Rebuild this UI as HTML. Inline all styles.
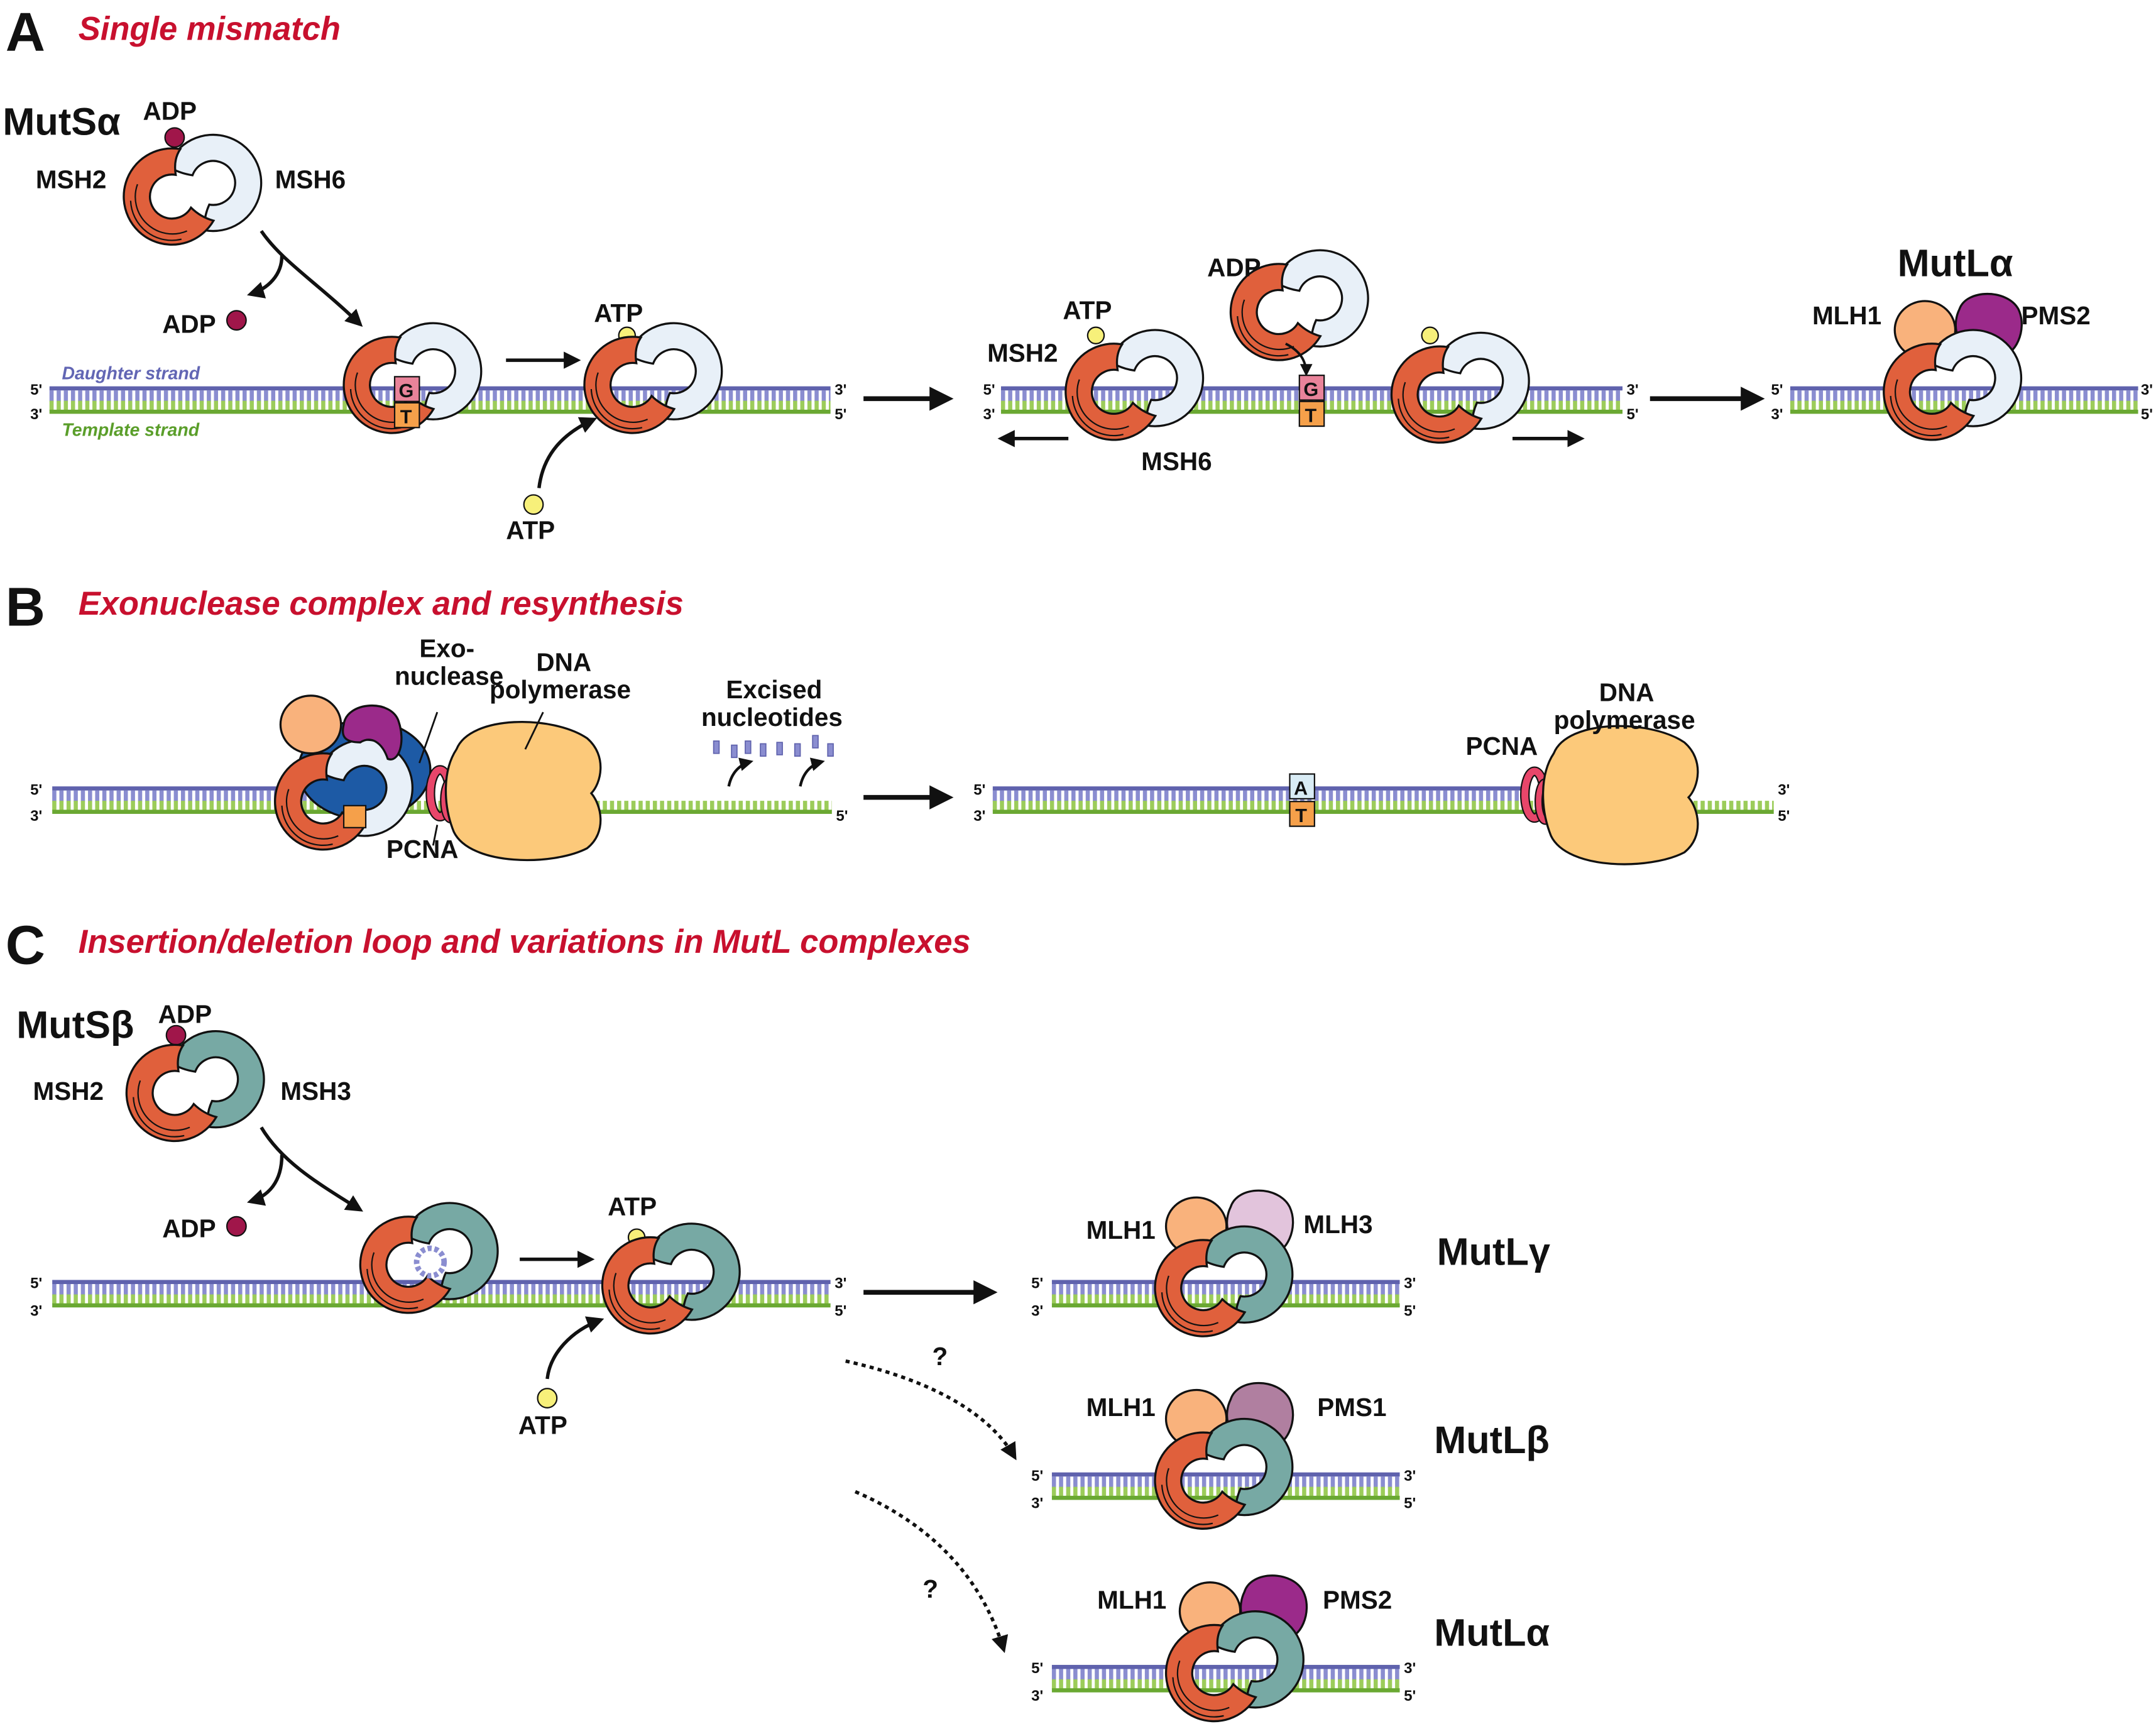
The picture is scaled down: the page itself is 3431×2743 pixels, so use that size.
<!DOCTYPE html>
<html><head><meta charset="utf-8"><style>
html,body{margin:0;padding:0;background:#fff}
svg{display:block}
text{font-family:"Liberation Sans",Arial,sans-serif;font-weight:bold;fill:#111}
.lb{font-size:18.5px}
.sm{font-size:11px}
.hd{font-size:40px}
.ti{font-size:24px;font-style:italic;fill:#c8102e}
.big{font-size:28px;font-weight:bold}
</style></head><body>
<svg width="3431" height="2743" viewBox="0 0 1568 1254" preserveAspectRatio="none" xmlns="http://www.w3.org/2000/svg">
<defs>
<marker id="ah" viewBox="0 0 10 10" refX="8" refY="5" markerWidth="5" markerHeight="5" orient="auto"><path d="M0,0 L10,5 L0,10 Z" fill="#111"/></marker>
<path id="m2" d="M-8.9,-29.5 A35,35 0 1,0 15.3,22.5 Q6,20 -1.1,13 A16,16 0 1,1 -12.2,-10.8 Q-14,-22 -8.9,-29.5 Z" fill="#e0603c" stroke="#111" stroke-width="1.5"/>
<path id="pc" d="M-17.9,-17 A35,35 0 1,1 8.9,29.5 Q8,20 12.2,10.8 A16,16 0 1,0 0,-10.5 Q-10,-12 -17.9,-17 Z" stroke="#111" stroke-width="1.5"/>
<g id="lines2"><path d="M-45,8 A30,30 0 0,0 -8,36" fill="none" stroke="#111" stroke-width="1"/><path d="M-40,-4 A27,27 0 0,0 -4,30" fill="none" stroke="#111" stroke-width="1"/></g>
<g id="msA"><use href="#pc" fill="#e8f0f8"/><use href="#m2"/><use href="#lines2"/></g>
<g id="msB"><use href="#pc" fill="#77a9a4"/><use href="#m2"/><use href="#lines2"/></g>
<path id="pol" d="M-50,-30 C-40,-55 20,-55 45,-38 C60,-25 55,-5 48,2 C55,10 60,30 45,42 C20,55 -40,55 -52,30 C-60,10 -60,-15 -50,-30 Z" fill="#fcc97a" stroke="#111" stroke-width="1.5"/>
<g id="pcna"><ellipse cx="0" cy="0" rx="7" ry="17" fill="none" stroke="#111" stroke-width="7"/><ellipse cx="0" cy="0" rx="7" ry="17" fill="none" stroke="#e8466a" stroke-width="5"/><ellipse cx="8" cy="5" rx="5" ry="14" fill="none" stroke="#111" stroke-width="6"/><ellipse cx="8" cy="5" rx="5" ry="14" fill="none" stroke="#e8466a" stroke-width="4"/></g>
</defs>

<g id="strands">
<g>
<line x1="36" y1="288" x2="604" y2="288" stroke="#8a8dd0" stroke-width="8" stroke-dasharray="3 2.2"/>
<line x1="36" y1="295" x2="604" y2="295" stroke="#9ccc5a" stroke-width="7" stroke-dasharray="3 2.2"/>
<rect x="36" y="281" width="568" height="3" fill="#5f62ad"/>
<rect x="36" y="298" width="568" height="3" fill="#6aa832"/>
</g>
<g>
<line x1="728" y1="288" x2="1180" y2="288" stroke="#8a8dd0" stroke-width="8" stroke-dasharray="3 2.2"/>
<line x1="728" y1="295" x2="1180" y2="295" stroke="#9ccc5a" stroke-width="7" stroke-dasharray="3 2.2"/>
<rect x="728" y="281" width="452" height="3" fill="#5f62ad"/>
<rect x="728" y="298" width="452" height="3" fill="#6aa832"/>
</g>
<g>
<line x1="1302" y1="288" x2="1555" y2="288" stroke="#8a8dd0" stroke-width="8" stroke-dasharray="3 2.2"/>
<line x1="1302" y1="295" x2="1555" y2="295" stroke="#9ccc5a" stroke-width="7" stroke-dasharray="3 2.2"/>
<rect x="1302" y="281" width="253" height="3" fill="#5f62ad"/>
<rect x="1302" y="298" width="253" height="3" fill="#6aa832"/>
</g>
<g>
<line x1="38" y1="579" x2="300" y2="579" stroke="#8a8dd0" stroke-width="8" stroke-dasharray="3 2.2"/>
<line x1="38" y1="586" x2="605" y2="586" stroke="#9ccc5a" stroke-width="7" stroke-dasharray="3 2.2"/>
<rect x="38" y="572" width="262" height="3" fill="#5f62ad"/>
<rect x="38" y="589" width="567" height="3" fill="#6aa832"/>
</g>
<g>
<line x1="722" y1="579" x2="1110" y2="579" stroke="#8a8dd0" stroke-width="8" stroke-dasharray="3 2.2"/>
<line x1="722" y1="586" x2="1290" y2="586" stroke="#9ccc5a" stroke-width="7" stroke-dasharray="3 2.2"/>
<rect x="722" y="572" width="388" height="3" fill="#5f62ad"/>
<rect x="722" y="589" width="568" height="3" fill="#6aa832"/>
</g>
<g>
<line x1="38" y1="938" x2="604" y2="938" stroke="#8a8dd0" stroke-width="8" stroke-dasharray="3 2.2"/>
<line x1="38" y1="945" x2="604" y2="945" stroke="#9ccc5a" stroke-width="7" stroke-dasharray="3 2.2"/>
<rect x="38" y="931" width="566" height="3" fill="#5f62ad"/>
<rect x="38" y="948" width="566" height="3" fill="#6aa832"/>
</g>
<g>
<line x1="765" y1="938" x2="1018" y2="938" stroke="#8a8dd0" stroke-width="8" stroke-dasharray="3 2.2"/>
<line x1="765" y1="945" x2="1018" y2="945" stroke="#9ccc5a" stroke-width="7" stroke-dasharray="3 2.2"/>
<rect x="765" y="931" width="253" height="3" fill="#5f62ad"/>
<rect x="765" y="948" width="253" height="3" fill="#6aa832"/>
</g>
<g>
<line x1="765" y1="1078" x2="1018" y2="1078" stroke="#8a8dd0" stroke-width="8" stroke-dasharray="3 2.2"/>
<line x1="765" y1="1085" x2="1018" y2="1085" stroke="#9ccc5a" stroke-width="7" stroke-dasharray="3 2.2"/>
<rect x="765" y="1071" width="253" height="3" fill="#5f62ad"/>
<rect x="765" y="1088" width="253" height="3" fill="#6aa832"/>
</g>
<g>
<line x1="765" y1="1218" x2="1018" y2="1218" stroke="#8a8dd0" stroke-width="8" stroke-dasharray="3 2.2"/>
<line x1="765" y1="1225" x2="1018" y2="1225" stroke="#9ccc5a" stroke-width="7" stroke-dasharray="3 2.2"/>
<rect x="765" y="1211" width="253" height="3" fill="#5f62ad"/>
<rect x="765" y="1228" width="253" height="3" fill="#6aa832"/>
</g>
</g>

<!-- ===== A ===== -->
<text x="4" y="37" class="hd">A</text>
<text x="57" y="29" class="ti">Single mismatch</text>
<text x="2" y="98" style="font-size:28px">MutSα</text>
<text x="104" y="87" class="lb">ADP</text>
<text x="26" y="137" class="lb">MSH2</text>
<text x="200" y="137" class="lb">MSH6</text>
<circle cx="127" cy="100" r="7" fill="#a0164a" stroke="#111"/>
<use href="#msA" x="140" y="138"/>
<path d="M190,168 C205,190 230,205 262,236" fill="none" stroke="#111" stroke-width="2.5" marker-end="url(#ah)"/>
<path d="M205,186 C205,200 195,210 182,214" fill="none" stroke="#111" stroke-width="2.5" marker-end="url(#ah)"/>
<circle cx="172" cy="233" r="7" fill="#a0164a" stroke="#111"/>
<text x="118" y="242" class="lb">ADP</text>
<text x="22" y="287" class="sm">5'</text><text x="22" y="305" class="sm">3'</text>
<text x="45" y="276" style="font-size:13px;font-style:italic;fill:#6266b4">Daughter strand</text>
<text x="45" y="317" style="font-size:13px;font-style:italic;fill:#5a9e2a">Template strand</text>
<text x="607" y="287" class="sm">3'</text><text x="607" y="305" class="sm">5'</text>
<use href="#msA" x="300" y="275"/>
<rect x="287" y="274" width="18" height="18" fill="#e9839a" stroke="#111"/><text x="290" y="289" style="font-size:14px">G</text>
<rect x="287" y="293" width="18" height="18" fill="#f5a04a" stroke="#111"/><text x="291" y="308" style="font-size:14px">T</text>
<line x1="368" y1="262" x2="420" y2="262" stroke="#111" stroke-width="2.5" marker-end="url(#ah)"/>
<circle cx="456" cy="244" r="6" fill="#f7f07a" stroke="#111"/>
<use href="#msA" x="475" y="275"/>
<text x="432" y="234" class="lb">ATP</text>
<path d="M392,355 C395,330 410,315 432,305" fill="none" stroke="#111" stroke-width="2.5" marker-end="url(#ah)"/>
<circle cx="388" cy="367" r="7" fill="#f7f07a" stroke="#111"/>
<text x="368" y="392" class="lb">ATP</text>
<line x1="628" y1="290" x2="690" y2="290" stroke="#111" stroke-width="3.5" marker-end="url(#ah)"/>
<text x="715" y="287" class="sm">5'</text><text x="715" y="305" class="sm">3'</text>
<text x="1183" y="287" class="sm">3'</text><text x="1183" y="305" class="sm">5'</text>
<circle cx="797" cy="244" r="6" fill="#f7f07a" stroke="#111"/>
<use href="#msA" x="825" y="280"/>
<circle cx="1040" cy="244" r="6" fill="#f7f07a" stroke="#111"/>
<use href="#msA" x="1062" y="282"/>
<circle cx="914" cy="210" r="7" fill="#a0164a" stroke="#111"/>
<use href="#msA" x="945" y="222"/>
<path d="M935,250 C945,255 950,262 950,272" fill="none" stroke="#111" stroke-width="1.8" marker-end="url(#ah)"/>
<rect x="945" y="273" width="18" height="18" fill="#e9839a" stroke="#111"/><text x="948" y="288" style="font-size:14px">G</text>
<rect x="945" y="292" width="18" height="18" fill="#f5a04a" stroke="#111"/><text x="949" y="307" style="font-size:14px">T</text>
<text x="878" y="201" class="lb">ADP</text>
<text x="773" y="232" class="lb">ATP</text>
<text x="718" y="263" class="lb">MSH2</text>
<text x="830" y="342" class="lb">MSH6</text>
<line x1="777" y1="319" x2="728" y2="319" stroke="#111" stroke-width="2.5" marker-end="url(#ah)"/>
<line x1="1100" y1="319" x2="1150" y2="319" stroke="#111" stroke-width="2.5" marker-end="url(#ah)"/>
<line x1="1200" y1="290" x2="1280" y2="290" stroke="#111" stroke-width="3.5" marker-end="url(#ah)"/>
<text x="1288" y="287" class="sm">5'</text><text x="1288" y="305" class="sm">3'</text>
<text x="1557" y="287" class="sm">3'</text><text x="1557" y="305" class="sm">5'</text>
<ellipse cx="1400" cy="240" rx="22" ry="21" fill="#f9b27c" stroke="#111" stroke-width="1.5"/>
<path d="M1425,225 C1430,210 1460,210 1468,225 C1475,240 1465,260 1455,258 C1450,250 1440,245 1432,250 C1422,250 1420,235 1425,225 Z" fill="#9b2a8a" stroke="#111" stroke-width="1.5"/>
<use href="#msA" x="1420" y="280"/>
<text x="1380" y="201" class="big">MutLα</text>
<text x="1318" y="236" class="lb">MLH1</text>
<text x="1470" y="236" class="lb">PMS2</text>

<!-- ===== B ===== -->
<text x="4" y="455" class="hd">B</text>
<text x="57" y="447" class="ti">Exonuclease complex and resynthesis</text>
<ellipse cx="265" cy="560" rx="48" ry="36" fill="#1d5aa5" stroke="#111" stroke-width="1.5"/>
<ellipse cx="226" cy="527" rx="22" ry="21" fill="#f9b27c" stroke="#111" stroke-width="1.5"/>
<use href="#msA" x="250" y="578"/>
<path d="M250,527 C252,510 285,508 290,525 C295,540 290,555 282,552 C278,540 270,535 262,540 C250,540 248,535 250,527 Z" fill="#9b2a8a" stroke="#111" stroke-width="1.5"/>
<rect x="250" y="586" width="16" height="16" fill="#f5a04a" stroke="#111"/>
<use href="#pcna" x="320" y="577"/>
<use href="#pol" x="382" y="575"/>
<line x1="318" y1="518" x2="305" y2="555" stroke="#111" stroke-width="1.3"/>
<line x1="395" y1="518" x2="382" y2="545" stroke="#111" stroke-width="1.3"/>
<line x1="318" y1="600" x2="315" y2="615" stroke="#111" stroke-width="1.3"/>
<text x="305" y="478" class="lb">Exo-</text>
<text x="287" y="498" class="lb">nuclease</text>
<text x="390" y="488" class="lb">DNA</text>
<text x="356" y="508" class="lb">polymerase</text>
<text x="281" y="624" class="lb">PCNA</text>
<text x="22" y="578" class="sm">5'</text><text x="22" y="597" class="sm">3'</text>
<text x="608" y="597" class="sm">5'</text>
<text x="528" y="508" class="lb">Excised</text>
<text x="510" y="528" class="lb">nucleotides</text>
<g fill="#8a8dd0" stroke="#5f62ad" stroke-width="0.8">
<rect x="519" y="539" width="4" height="9"/><rect x="532" y="542" width="4" height="9"/><rect x="542" y="539" width="4" height="9"/><rect x="553" y="541" width="4" height="9"/><rect x="565" y="540" width="4" height="9"/><rect x="578" y="541" width="4" height="9"/><rect x="591" y="535" width="4" height="9"/><rect x="602" y="541" width="4" height="9"/>
</g>
<path d="M530,572 C532,562 538,556 546,554" fill="none" stroke="#111" stroke-width="2" marker-end="url(#ah)"/>
<path d="M582,572 C584,562 590,556 598,554" fill="none" stroke="#111" stroke-width="2" marker-end="url(#ah)"/>
<line x1="628" y1="580" x2="690" y2="580" stroke="#111" stroke-width="3.5" marker-end="url(#ah)"/>
<text x="708" y="578" class="sm">5'</text><text x="708" y="597" class="sm">3'</text>
<text x="1293" y="578" class="sm">3'</text><text x="1293" y="597" class="sm">5'</text>
<rect x="938" y="563" width="18" height="18" fill="#d9ecf5" stroke="#111"/><text x="941" y="578" style="font-size:14px">A</text>
<rect x="938" y="583" width="18" height="18" fill="#f5a04a" stroke="#111"/><text x="942" y="598" style="font-size:14px">T</text>
<use href="#pcna" x="1116" y="578"/>
<use href="#pol" x="1180" y="578"/>
<text x="1163" y="510" class="lb">DNA</text>
<text x="1130" y="530" class="lb">polymerase</text>
<text x="1066" y="549" class="lb">PCNA</text>

<!-- ===== C ===== -->
<text x="4" y="701" class="hd">C</text>
<text x="57" y="693" class="ti">Insertion/deletion loop and variations in MutL complexes</text>
<text x="12" y="755" style="font-size:28px">MutSβ</text>
<text x="115" y="744" class="lb">ADP</text>
<text x="24" y="800" class="lb">MSH2</text>
<text x="204" y="800" class="lb">MSH3</text>
<circle cx="128" cy="753" r="7" fill="#a0164a" stroke="#111"/>
<use href="#msB" x="142" y="790"/>
<path d="M190,820 C205,845 230,860 262,880" fill="none" stroke="#111" stroke-width="2.5" marker-end="url(#ah)"/>
<path d="M205,840 C205,860 195,870 182,874" fill="none" stroke="#111" stroke-width="2.5" marker-end="url(#ah)"/>
<circle cx="172" cy="892" r="7" fill="#a0164a" stroke="#111"/>
<text x="118" y="900" class="lb">ADP</text>
<text x="22" y="937" class="sm">5'</text><text x="22" y="957" class="sm">3'</text>
<text x="607" y="937" class="sm">3'</text><text x="607" y="957" class="sm">5'</text>
<use href="#msB" x="312" y="915"/>
<circle cx="313" cy="918" r="10" fill="none" stroke="#8a8dd0" stroke-width="4" stroke-dasharray="3 2"/>
<line x1="378" y1="916" x2="430" y2="916" stroke="#111" stroke-width="2.5" marker-end="url(#ah)"/>
<circle cx="463" cy="900" r="6" fill="#f7f07a" stroke="#111"/>
<use href="#msB" x="488" y="930"/>
<text x="442" y="884" class="lb">ATP</text>
<path d="M398,1003 C400,985 415,968 437,960" fill="none" stroke="#111" stroke-width="2.5" marker-end="url(#ah)"/>
<circle cx="398" cy="1017" r="7" fill="#f7f07a" stroke="#111"/>
<text x="377" y="1043" class="lb">ATP</text>
<line x1="628" y1="940" x2="722" y2="940" stroke="#111" stroke-width="3.5" marker-end="url(#ah)"/>
<path d="M615,990 C660,1000 715,1020 738,1060" fill="none" stroke="#111" stroke-width="2.5" stroke-dasharray="3 3" marker-end="url(#ah)"/>
<path d="M622,1085 C680,1110 715,1150 730,1200" fill="none" stroke="#111" stroke-width="2.5" stroke-dasharray="3 3" marker-end="url(#ah)"/>
<text x="678" y="993" class="lb">?</text>
<text x="671" y="1162" class="lb">?</text>
<text x="750" y="937" class="sm">5'</text><text x="750" y="957" class="sm">3'</text>
<text x="1021" y="937" class="sm">3'</text><text x="1021" y="957" class="sm">5'</text>
<ellipse cx="870" cy="892" rx="22" ry="21" fill="#f9b27c" stroke="#111" stroke-width="1.5"/>
<path d="M895,878 C900,862 930,862 938,878 C945,893 935,913 925,911 C920,903 910,898 902,903 C892,903 890,888 895,878 Z" fill="#e2c4dc" stroke="#111" stroke-width="1.5"/>
<use href="#msB" x="890" y="932"/>
<text x="790" y="901" class="lb">MLH1</text>
<text x="948" y="897" class="lb">MLH3</text>
<text x="1045" y="920" class="big">MutLγ</text>
<text x="750" y="1077" class="sm">5'</text><text x="750" y="1097" class="sm">3'</text>
<text x="1021" y="1077" class="sm">3'</text><text x="1021" y="1097" class="sm">5'</text>
<ellipse cx="870" cy="1032" rx="22" ry="21" fill="#f9b27c" stroke="#111" stroke-width="1.5"/>
<path d="M895,1018 C900,1002 930,1002 938,1018 C945,1033 935,1053 925,1051 C920,1043 910,1038 902,1043 C892,1043 890,1028 895,1018 Z" fill="#b07fa0" stroke="#111" stroke-width="1.5"/>
<use href="#msB" x="890" y="1072"/>
<text x="790" y="1030" class="lb">MLH1</text>
<text x="958" y="1030" class="lb">PMS1</text>
<text x="1043" y="1057" class="big">MutLβ</text>
<text x="750" y="1217" class="sm">5'</text><text x="750" y="1237" class="sm">3'</text>
<text x="1021" y="1217" class="sm">3'</text><text x="1021" y="1237" class="sm">5'</text>
<ellipse cx="880" cy="1172" rx="22" ry="21" fill="#f9b27c" stroke="#111" stroke-width="1.5"/>
<path d="M905,1158 C910,1142 940,1142 948,1158 C955,1173 945,1193 935,1191 C930,1183 920,1178 912,1183 C902,1183 900,1168 905,1158 Z" fill="#9b2a8a" stroke="#111" stroke-width="1.5"/>
<use href="#msB" x="898" y="1212"/>
<text x="798" y="1170" class="lb">MLH1</text>
<text x="962" y="1170" class="lb">PMS2</text>
<text x="1043" y="1197" class="big">MutLα</text>
</svg>
</body></html>
